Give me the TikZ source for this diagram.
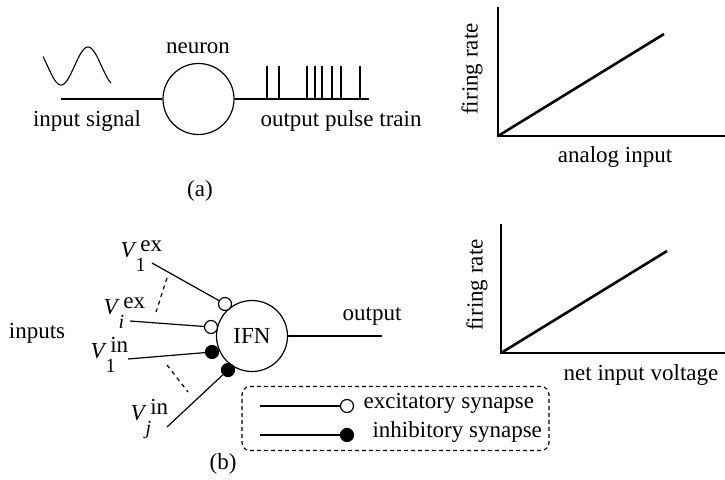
\documentclass[tikz,border=0pt]{standalone}
\usepackage{fontspec}
\setmainfont{Liberation Serif}
\newcommand\Vlab[2]{\textit{V}\rlap{\raisebox{-0.62em}{\kern-0.05em\fontsize{20}{24}\selectfont #2}}\kern0.15em\raisebox{0.22em}{#1}}
\begin{document}
\begin{tikzpicture}[x=1pt,y=-1pt,line width=1.2pt,
  every node/.style={font=\fontsize{23}{27}\selectfont,inner sep=0pt},
  cell/.style={circle,draw,minimum size=71pt,line width=1.2pt},
  syn/.style={circle,draw,minimum size=13pt,inner sep=0pt,line width=1.2pt},
  exc/.style={syn,fill=white},
  inh/.style={syn,fill=black},
  curve/.style={line width=2.6pt},
  axis/.style={line width=1.4pt},
  legendbox/.style={draw,dash pattern=on 4pt off 3pt,rounded corners=8pt,line width=1.1pt}]
\useasboundingbox (0,0) rectangle (725,479);
% ---------- (a) ----------
\node[cell] (neuron) at (198.5,99) {};
\node[anchor=base] (neuronlbl) at (198,53) {neuron};
\coordinate (inL) at (61,99);
\coordinate (outR) at (369,99);
\draw (inL) -- (neuron.west);
\draw (neuron.east) -- (outR);
\foreach \x in {267,279,307,315,322,332,341,360} \draw (\x,99) -- (\x,66);
\draw[line width=1.1pt] plot[domain=43:111,samples=60,smooth] (\x,{66+19*cos(180*(\x-61)/27)});
\node[anchor=base] (insig) at (87,126) {input signal};
\node[anchor=base] (outsig) at (341,126) {output pulse train};
\node[anchor=base] (alabel) at (200,196) {(a)};
% graph a
\coordinate (oA) at (498,136);
\coordinate (yA) at (498,7);
\coordinate (xA) at (725,136);
\coordinate (eA) at (664,34);
\draw[axis] (yA) -- (oA) -- (xA);
\draw[curve] (oA) -- (eA);
\node[rotate=90] (frA) at (472,69) {firing rate};
\node[anchor=base] (anA) at (615,162) {analog input};
% ---------- (b) ----------
\node[cell] (ifn) at (252,336) {IFN};
\coordinate (outb) at (382,336);
\draw (ifn.east) -- (outb);
\node[anchor=base] (outlbl) at (372,320) {output};
\node[exc] (s1) at (225,304) {};
\node[exc] (s2) at (211,327) {};
\node[inh] (s3) at (212,352) {};
\node[inh] (s4) at (228,370) {};
\coordinate (a1) at (152,263);
\coordinate (a2) at (130,321);
\coordinate (a3) at (128,359);
\coordinate (a4) at (167,427);
\draw (a1) -- (s1);
\draw (a2) -- (s2);
\draw (a3) -- (s3);
\draw (a4) -- (s4);
\coordinate (d1a) at (167,278);
\coordinate (d1b) at (156,312);
\coordinate (d2a) at (167,365);
\coordinate (d2b) at (188,392);
\draw[dash pattern=on 4pt off 4pt] (d1a) -- (d1b);
\draw[dash pattern=on 4pt off 4pt] (d2a) -- (d2b);
\node[anchor=base west] (v1ex) at (120,257) {\Vlab{ex}{1}};
\node[anchor=base west] (viex) at (103,314) {\Vlab{ex}{\textit{i}}};
\node[anchor=base west] (v1in) at (90,358) {\Vlab{in}{1}};
\node[anchor=base west] (vjin) at (130,420) {\Vlab{in}{\textit{j}}};
\node[anchor=base] (inputs) at (37,338) {inputs};
\node[anchor=base] (blabel) at (223,469) {(b)};
% legend
\node[legendbox,minimum width=307pt,minimum height=64pt] (legend) at (395.5,418.5) {};
\coordinate (l1) at (260,406);
\coordinate (l2) at (260,435);
\node[exc] (le) at (347,406) {};
\node[inh] (li) at (347,435) {};
\draw (l1) -- (le);
\draw (l2) -- (li);
\node[anchor=base west] (ltext1) at (363,408) {excitatory synapse};
\node[anchor=base west] (ltext2) at (372,437) {inhibitory synapse};
% graph b
\coordinate (oB) at (501,353);
\coordinate (yB) at (501,224);
\coordinate (xB) at (725,353);
\coordinate (eB) at (667,251);
\draw[axis] (yB) -- (oB) -- (xB);
\draw[curve] (oB) -- (eB);
\node[rotate=90] (frB) at (477,285) {firing rate};
\node[anchor=base] (niv) at (641,380) {net input voltage};
\end{tikzpicture}
\end{document}
